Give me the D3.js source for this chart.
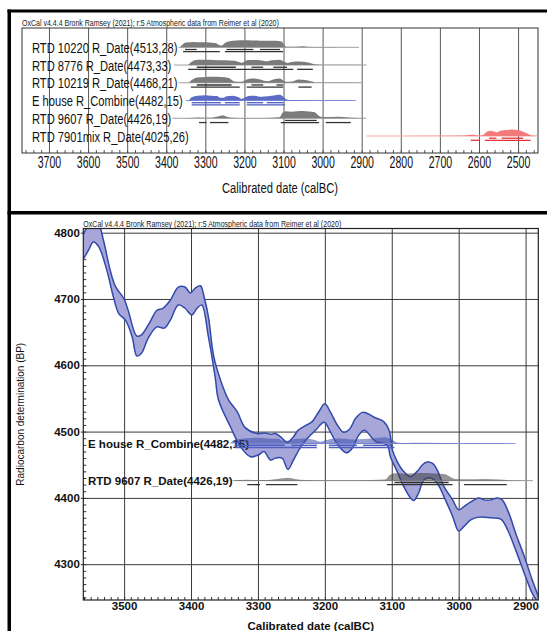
<!DOCTYPE html>
<html>
<head>
<meta charset="utf-8">
<script src="https://cdnjs.cloudflare.com/ajax/libs/d3/7.8.5/d3.min.js"></script>
<style>
  body { margin: 0; background: #fff; }
  svg { display: block; font-family: "Liberation Sans", Arial, sans-serif; }
</style>
</head>
<body>
<script>
// ---- data ----
var titleText = "OxCal v4.4.4 Bronk Ramsey (2021); r:5 Atmospheric data from Reimer et al (2020)";

var sampleNames = [
  "RTD 10220 R_Date(4513,28)",
  "RTD 8776 R_Date(4473,33)",
  "RTD 10219 R_Date(4468,21)",
  "E house R_Combine(4482,15)",
  "RTD 9607 R_Date(4426,19)",
  "RTD 7901mix R_Date(4025,26)"
];
var sampleKinds = ["grey", "grey", "grey", "blue", "grey", "red"];
var sampleBP = [4513, 4473, 4468, 4482, 4426, 4025];

// extent of each row's thin line (calBC)
var lineSpans = [[3370, 2907], [3380, 2887], [3370, 2900], [3350, 2915], [3391, 2889], [2888, 2400]];

// relative probability, [calBC, value]
var dist10220 = [[3365,0],[3357,3],[3350,4.5],[3330,5],[3310,4.6],[3290,4.4],[3275,4],[3263,2],[3258,1.6],[3250,4],[3240,5.5],[3220,6.4],[3200,6.6],[3180,6.4],[3160,6.2],[3140,6],[3120,6.2],[3105,5.5],[3098,2],[3092,0.5],[3070,0.5],[3050,1],[3040,0.6],[3000,0.2],[2950,0.1],[2907,0]];
var dist8776 = [[3344,0],[3335,3],[3320,5],[3300,5],[3280,4.8],[3250,4.5],[3225,4],[3212,2.5],[3207,2],[3194,4.5],[3175,4.8],[3160,4.5],[3143,3.5],[3130,4.5],[3110,5],[3098,3],[3090,2],[3075,3],[3060,3.2],[3040,2.5],[3028,1.5],[3015,0.5],[2990,0.3],[2950,0.3],[2887,0]];
var dist10219 = [[3342,0],[3335,2.5],[3320,5],[3300,5.5],[3280,5.7],[3260,5.5],[3240,4.5],[3230,2],[3220,1],[3207,1],[3194,3],[3180,4],[3165,3.5],[3150,2],[3140,1.5],[3126,3],[3110,4],[3100,2],[3092,1],[3075,1.5],[3062,3],[3045,2.5],[3030,1.5],[3015,0.3],[2950,0.2],[2900,0]];
var distEhouse = [[3342,0],[3335,3],[3320,4.5],[3300,5],[3285,4.5],[3270,4.2],[3262,2.5],[3255,2.5],[3245,4],[3230,4.5],[3215,3],[3207,1.5],[3198,3],[3185,4.5],[3170,4.2],[3160,3.5],[3150,3.8],[3130,4.5],[3110,5.5],[3100,3.5],[3092,1],[3080,0.4],[3050,0.6],[3000,0.3],[2950,0.2],[2915,0]];
var dist9607 = [[3391,0],[3340,0.2],[3316,0.8],[3300,0.5],[3290,0.5],[3270,1.5],[3255,2.5],[3245,1.5],[3230,0.5],[3200,0.3],[3150,0.3],[3110,1],[3103,5],[3095,6.5],[3080,6],[3065,6.5],[3050,6.8],[3035,6.3],[3020,5.5],[3012,3],[3005,1.5],[2990,1.2],[2960,1.5],[2940,1],[2925,0.4],[2889,0]];
var dist7901 = [[2888,0],[2700,0.2],[2640,0.5],[2625,1],[2615,1.2],[2600,0.5],[2590,1],[2580,4],[2570,5],[2560,4],[2555,3.5],[2545,5],[2530,5.5],[2515,6],[2500,5.5],[2490,4.5],[2475,2],[2465,0.5],[2449,0.2]];
var sampleDists = [dist10220, dist8776, dist10219, distEhouse, dist9607, dist7901];

// highest posterior density ranges (calBC)
var ranges68 = [
  [[3352,3322],[3246,3177],[3160,3109]],
  [[3322,3222],[3182,3152],[3126,3091]],
  [[3322,3233],[3182,3152],[3118,3101]],
  [[3335,3260],[3250,3212],[3194,3152],[3143,3100]],
  [[3096,3015]],
  [[2574,2555],[2542,2487]]
];
var ranges95 = [
  [[3357,3263],[3250,3101]],
  [[3344,3075],[3065,3025]],
  [[3337,3212],[3194,3101],[3062,3028]],
  [[3335,3212],[3194,3096]],
  [[3316,3297],[3288,3241],[3107,3009],[2992,2928]],
  [[2621,2600],[2585,2468]]
];

var topTicks = [3700, 3600, 3500, 3400, 3300, 3200, 3100, 3000, 2900, 2800, 2700, 2600, 2500];

// IntCal20 band edges, [calBC, BP]
var curveUpper = [[3561,4797],[3553,4810],[3538,4810],[3531,4789],[3521,4744],[3513,4719],[3500,4700],[3494,4683],[3481,4644],[3474,4646],[3461,4666],[3451,4683],[3442,4686],[3431,4698],[3419,4718],[3409,4718],[3401,4709],[3394,4716],[3386,4720],[3380,4701],[3374,4673],[3366,4613],[3356,4578],[3344,4548],[3331,4530],[3319,4506],[3301,4497],[3289,4498],[3281,4496],[3274,4497],[3266,4492],[3256,4484],[3247,4492],[3240,4502],[3231,4508],[3219,4515],[3209,4530],[3200,4542],[3192,4530],[3182,4511],[3172,4499],[3163,4504],[3154,4520],[3144,4529],[3138,4528],[3127,4522],[3112,4515],[3104,4502],[3099,4472],[3092,4455],[3084,4442],[3072,4432],[3062,4440],[3054,4450],[3047,4454],[3039,4452],[3032,4442],[3022,4417],[3009,4397],[3000,4382],[2992,4387],[2982,4394],[2970,4400],[2962,4397],[2952,4397],[2942,4400],[2935,4397],[2925,4377],[2915,4347],[2902,4312],[2890,4276],[2880,4249]];
var curveLower = [[3561,4760],[3553,4774],[3546,4786],[3538,4779],[3526,4744],[3516,4703],[3508,4678],[3498,4668],[3488,4643],[3481,4614],[3474,4618],[3464,4641],[3451,4658],[3440,4656],[3431,4668],[3419,4691],[3409,4686],[3399,4676],[3391,4686],[3384,4691],[3374,4643],[3364,4583],[3359,4548],[3341,4507],[3326,4477],[3311,4462],[3299,4465],[3291,4470],[3281,4457],[3274,4460],[3264,4460],[3255,4443],[3247,4457],[3236,4477],[3226,4490],[3214,4502],[3201,4514],[3192,4500],[3182,4482],[3168,4468],[3159,4475],[3149,4495],[3141,4502],[3124,4485],[3107,4480],[3102,4462],[3092,4440],[3082,4417],[3072,4400],[3067,4396],[3060,4407],[3052,4427],[3042,4430],[3032,4422],[3022,4402],[3009,4372],[3000,4350],[2992,4357],[2982,4367],[2970,4371],[2952,4370],[2937,4368],[2927,4352],[2915,4322],[2900,4281],[2890,4256],[2880,4240]];

var bottomXTicks = [3500, 3400, 3300, 3200, 3100, 3000, 2900];
var bottomYTicks = [4800, 4700, 4600, 4500, 4400, 4300];
var bottomRows = [3, 4]; // samples shown on the calibration curve

var colours = {
  grey: { fill: "#7b7b7b", line: "#a0a0a0", bar: "#333333", over: "#3c3c3c" },
  blue: { fill: "#5b6bc6", line: "#8c96da", bar: "#4d5dc0", over: "#3b4ca8" },
  red:  { fill: "#f27a7a", line: "#f7a5a5", bar: "#e83232", over: "#e83232" }
};

// ---- page ----
var W = 547, H = 631;
var svg = d3.select("body").append("svg").attr("width", W).attr("height", H);

function narrow(g, str, x, y, size, sx, anchor) {
  return g.append("text")
    .attr("transform", "translate(" + x + "," + y + ") scale(" + sx + ",1)")
    .attr("text-anchor", anchor || "start")
    .style("font-size", size + "px")
    .text(str);
}

// ================= top panel : multiplot =================
var topBox = { l: 22, t: 28, r: 538, b: 153 };
var xTop = d3.scaleLinear().domain([3769, 2449]).range([topBox.l, topBox.r]);
var yRow = d3.scaleLinear().domain([0, 5]).range([47.3, 136]);
var hTop = d3.scaleLinear().domain([0, 7]).range([0, 7.5]);

var gTop = svg.append("g");
gTop.append("defs").append("clipPath").attr("id", "clipTop")
  .append("rect").attr("x", topBox.l).attr("y", topBox.t).attr("width", topBox.r - topBox.l).attr("height", topBox.b - topBox.t);

// grid
gTop.append("g")
  .attr("transform", "translate(0," + topBox.b + ")")
  .call(d3.axisBottom(xTop).tickValues(topTicks).tickSize(-(topBox.b - topBox.t)).tickFormat(""))
  .call(function (g) { g.select(".domain").remove(); g.selectAll("line").attr("stroke", "#5a5a5a"); });
// minor ticks
gTop.append("g")
  .attr("transform", "translate(0," + topBox.b + ")")
  .call(d3.axisBottom(xTop).tickValues(d3.range(3760, 2440, -20)).tickSize(-3).tickFormat(""))
  .call(function (g) { g.select(".domain").remove(); g.selectAll("line").attr("stroke", "#555"); });
// tick labels
gTop.append("g")
  .attr("transform", "translate(0," + topBox.b + ")")
  .call(d3.axisBottom(xTop).tickValues(topTicks).tickSize(0).tickPadding(3.5).tickFormat(d3.format("d")))
  .call(function (g) {
    g.select(".domain").remove();
    g.selectAll("text").attr("fill", "#111").style("font-size", "16px")
      .style("font-family", "'Liberation Sans', Arial, sans-serif")
      .attr("transform", "scale(0.66,1)");
  });

gTop.append("rect").attr("x", topBox.l).attr("y", topBox.t).attr("width", topBox.r - topBox.l).attr("height", topBox.b - topBox.t)
  .attr("fill", "none").attr("stroke", "#333").attr("stroke-width", 1);

narrow(gTop, titleText, topBox.l, topBox.t - 2, 9, 0.78).attr("fill", "#222");
narrow(gTop, "Calibrated date (calBC)", (topBox.l + topBox.r) / 2, 193, 15.5, 0.72, "middle").attr("fill", "#111");

var areaTop = function (i) {
  var y0 = yRow(i);
  return d3.area().x(function (d) { return xTop(d[0]); })
    .y0(y0).y1(function (d) { return y0 - hTop(d[1]); })
    .curve(d3.curveMonotoneX);
};

sampleNames.forEach(function (name, i) {
  var c = colours[sampleKinds[i]];
  var y0 = yRow(i);
  var row = gTop.append("g");
  var label = narrow(row, name, 32, y0 + 5.5, 15.5, 0.72).attr("fill", "#111");
  var textEnd = 32 + label.node().getComputedTextLength() * 0.72;
  var rowLine = row.append("g").attr("clip-path", "url(#clipTop)");
  rowLine.append("line")
    .attr("x1", Math.max(xTop(lineSpans[i][0]), textEnd + 1)).attr("x2", xTop(lineSpans[i][1]))
    .attr("y1", y0).attr("y2", y0).attr("stroke", c.line).attr("stroke-width", 1);
  rowLine.append("path").datum(sampleDists[i]).attr("d", areaTop(i)).attr("fill", c.fill);
  ranges68[i].forEach(function (r) {
    rowLine.append("line").attr("x1", xTop(r[0])).attr("x2", xTop(r[1]))
      .attr("y1", y0 + 2.2).attr("y2", y0 + 2.2).attr("stroke", c.bar).attr("stroke-width", 1.3);
  });
  ranges95[i].forEach(function (r) {
    rowLine.append("line").attr("x1", xTop(r[0])).attr("x2", xTop(r[1]))
      .attr("y1", y0 + 4.3).attr("y2", y0 + 4.3).attr("stroke", c.bar).attr("stroke-width", 1.3);
  });
});

// ================= bottom panel : calibration curve =================
var bot = { l: 83.3, t: 228.5, r: 538.3, b: 600 };
var xBot = d3.scaleLinear().domain([3561, 2881]).range([bot.l, bot.r]);
var yBot = d3.scaleLinear().domain([4246, 4806.3]).range([bot.b, bot.t]);
var hBot = d3.scaleLinear().domain([0, 7]).range([0, 8]);

var gBot = svg.append("g");
gBot.append("defs").append("clipPath").attr("id", "clipBot")
  .append("rect").attr("x", bot.l).attr("y", bot.t).attr("width", bot.r - bot.l).attr("height", bot.b - bot.t);

gBot.append("g")
  .attr("transform", "translate(0," + bot.b + ")")
  .call(d3.axisBottom(xBot).tickValues(bottomXTicks).tickSize(-(bot.b - bot.t)).tickFormat(""))
  .call(function (g) { g.select(".domain").remove(); g.selectAll("line").attr("stroke", "#3a3a3a"); });
gBot.append("g")
  .attr("transform", "translate(" + bot.l + ",0)")
  .call(d3.axisLeft(yBot).tickValues(bottomYTicks).tickSize(-(bot.r - bot.l)).tickFormat(""))
  .call(function (g) { g.select(".domain").remove(); g.selectAll("line").attr("stroke", "#3a3a3a"); });
// minor ticks
gBot.append("g")
  .attr("transform", "translate(0," + bot.b + ")")
  .call(d3.axisBottom(xBot).tickValues(d3.range(3560, 2880, -10)).tickSize(-3).tickFormat(""))
  .call(function (g) { g.select(".domain").remove(); g.selectAll("line").attr("stroke", "#333"); });
gBot.append("g")
  .attr("transform", "translate(" + bot.l + ",0)")
  .call(d3.axisLeft(yBot).tickValues(d3.range(4250, 4810, 10)).tickSize(-3).tickFormat(""))
  .call(function (g) { g.select(".domain").remove(); g.selectAll("line").attr("stroke", "#333"); });

// curve band
var lineBot = d3.line().x(function (d) { return xBot(d[0]); }).y(function (d) { return yBot(d[1]); })
  .curve(d3.curveCatmullRom);
var band = gBot.append("g").attr("clip-path", "url(#clipBot)");
var upperPath = lineBot(curveUpper);
var lowerRevPath = lineBot(curveLower.slice().reverse());
band.append("path").attr("d", upperPath + "L" + lowerRevPath.slice(1) + "Z")
  .attr("fill", "#a6a6d8").attr("stroke", "none");
band.append("path").attr("d", upperPath).attr("fill", "none").attr("stroke", "#3149aa").attr("stroke-width", 1.5);
band.append("path").attr("d", lineBot(curveLower)).attr("fill", "none").attr("stroke", "#3149aa").attr("stroke-width", 1.5);

// samples on the curve
bottomRows.forEach(function (i) {
  var c = colours[sampleKinds[i]];
  var y0 = yBot(sampleBP[i]);
  var row = gBot.append("g");
  var label = row.append("text").attr("x", 88).attr("y", y0 + 4)
    .style("font-size", "11.5px").style("font-weight", "bold").attr("fill", "#111").text(sampleNames[i]);
  var textEnd = 88 + label.node().getComputedTextLength();
  var inner = row.append("g").attr("clip-path", "url(#clipBot)");
  inner.append("line")
    .attr("x1", Math.max(xBot(lineSpans[i][0]), textEnd + 1)).attr("x2", xBot(lineSpans[i][1]))
    .attr("y1", y0).attr("y2", y0).attr("stroke", c.line).attr("stroke-width", 1);
  inner.append("path").datum(sampleDists[i])
    .attr("d", d3.area().x(function (d) { return xBot(d[0]); })
      .y0(y0).y1(function (d) { return y0 - hBot(d[1]); }).curve(d3.curveMonotoneX))
    .attr("fill", c.over).attr("fill-opacity", 0.55);
  ranges68[i].forEach(function (r) {
    inner.append("line").attr("x1", xBot(r[0])).attr("x2", xBot(r[1]))
      .attr("y1", y0 + 1.8).attr("y2", y0 + 1.8).attr("stroke", c.bar).attr("stroke-width", 1.4);
  });
  ranges95[i].forEach(function (r) {
    inner.append("line").attr("x1", xBot(r[0])).attr("x2", xBot(r[1]))
      .attr("y1", y0 + 4).attr("y2", y0 + 4).attr("stroke", c.bar).attr("stroke-width", 1.4);
  });
});

// axes labels
gBot.append("g")
  .attr("transform", "translate(0," + bot.b + ")")
  .call(d3.axisBottom(xBot).tickValues(bottomXTicks).tickSize(0).tickPadding(1.5).tickFormat(d3.format("d")))
  .call(function (g) {
    g.select(".domain").remove();
    g.selectAll("text").attr("fill", "#111").style("font-size", "11.5px").style("font-weight", "bold")
      .style("font-family", "'Liberation Sans', Arial, sans-serif");
  });
gBot.append("g")
  .attr("transform", "translate(" + bot.l + ",0)")
  .call(d3.axisLeft(yBot).tickValues(bottomYTicks).tickSize(2.5).tickPadding(1).tickFormat(d3.format("d")))
  .call(function (g) {
    g.select(".domain").remove();
    g.selectAll("line").attr("stroke", "#333");
    g.selectAll("text").attr("fill", "#111").style("font-size", "11.5px").style("font-weight", "bold")
      .style("font-family", "'Liberation Sans', Arial, sans-serif");
  });

gBot.append("rect").attr("x", bot.l).attr("y", bot.t).attr("width", bot.r - bot.l).attr("height", bot.b - bot.t)
  .attr("fill", "none").attr("stroke", "#222").attr("stroke-width", 1.2);

narrow(gBot, titleText, bot.l, bot.t - 2, 8.5, 0.83).attr("fill", "#222");
gBot.append("text").attr("x", (bot.l + bot.r) / 2).attr("y", 629.5).attr("text-anchor", "middle")
  .style("font-size", "11.5px").style("font-weight", "bold").attr("fill", "#111").text("Calibrated date (calBC)");
gBot.append("text").attr("transform", "translate(23.5," + ((bot.t + bot.b) / 2) + ") rotate(-90)")
  .attr("text-anchor", "middle").style("font-size", "10px").attr("fill", "#111")
  .text("Radiocarbon determination (BP)");

// heavy panel borders
svg.append("rect").attr("x", 7.5).attr("y", 9.5).attr("width", W - 7.5).attr("height", 3).attr("fill", "#000");
svg.append("rect").attr("x", 7.5).attr("y", 211).attr("width", W - 7.5).attr("height", 3.5).attr("fill", "#000");
svg.append("rect").attr("x", 7.5).attr("y", 9.5).attr("width", 3.5).attr("height", H - 9.5).attr("fill", "#000");
</script>
</body>
</html>
